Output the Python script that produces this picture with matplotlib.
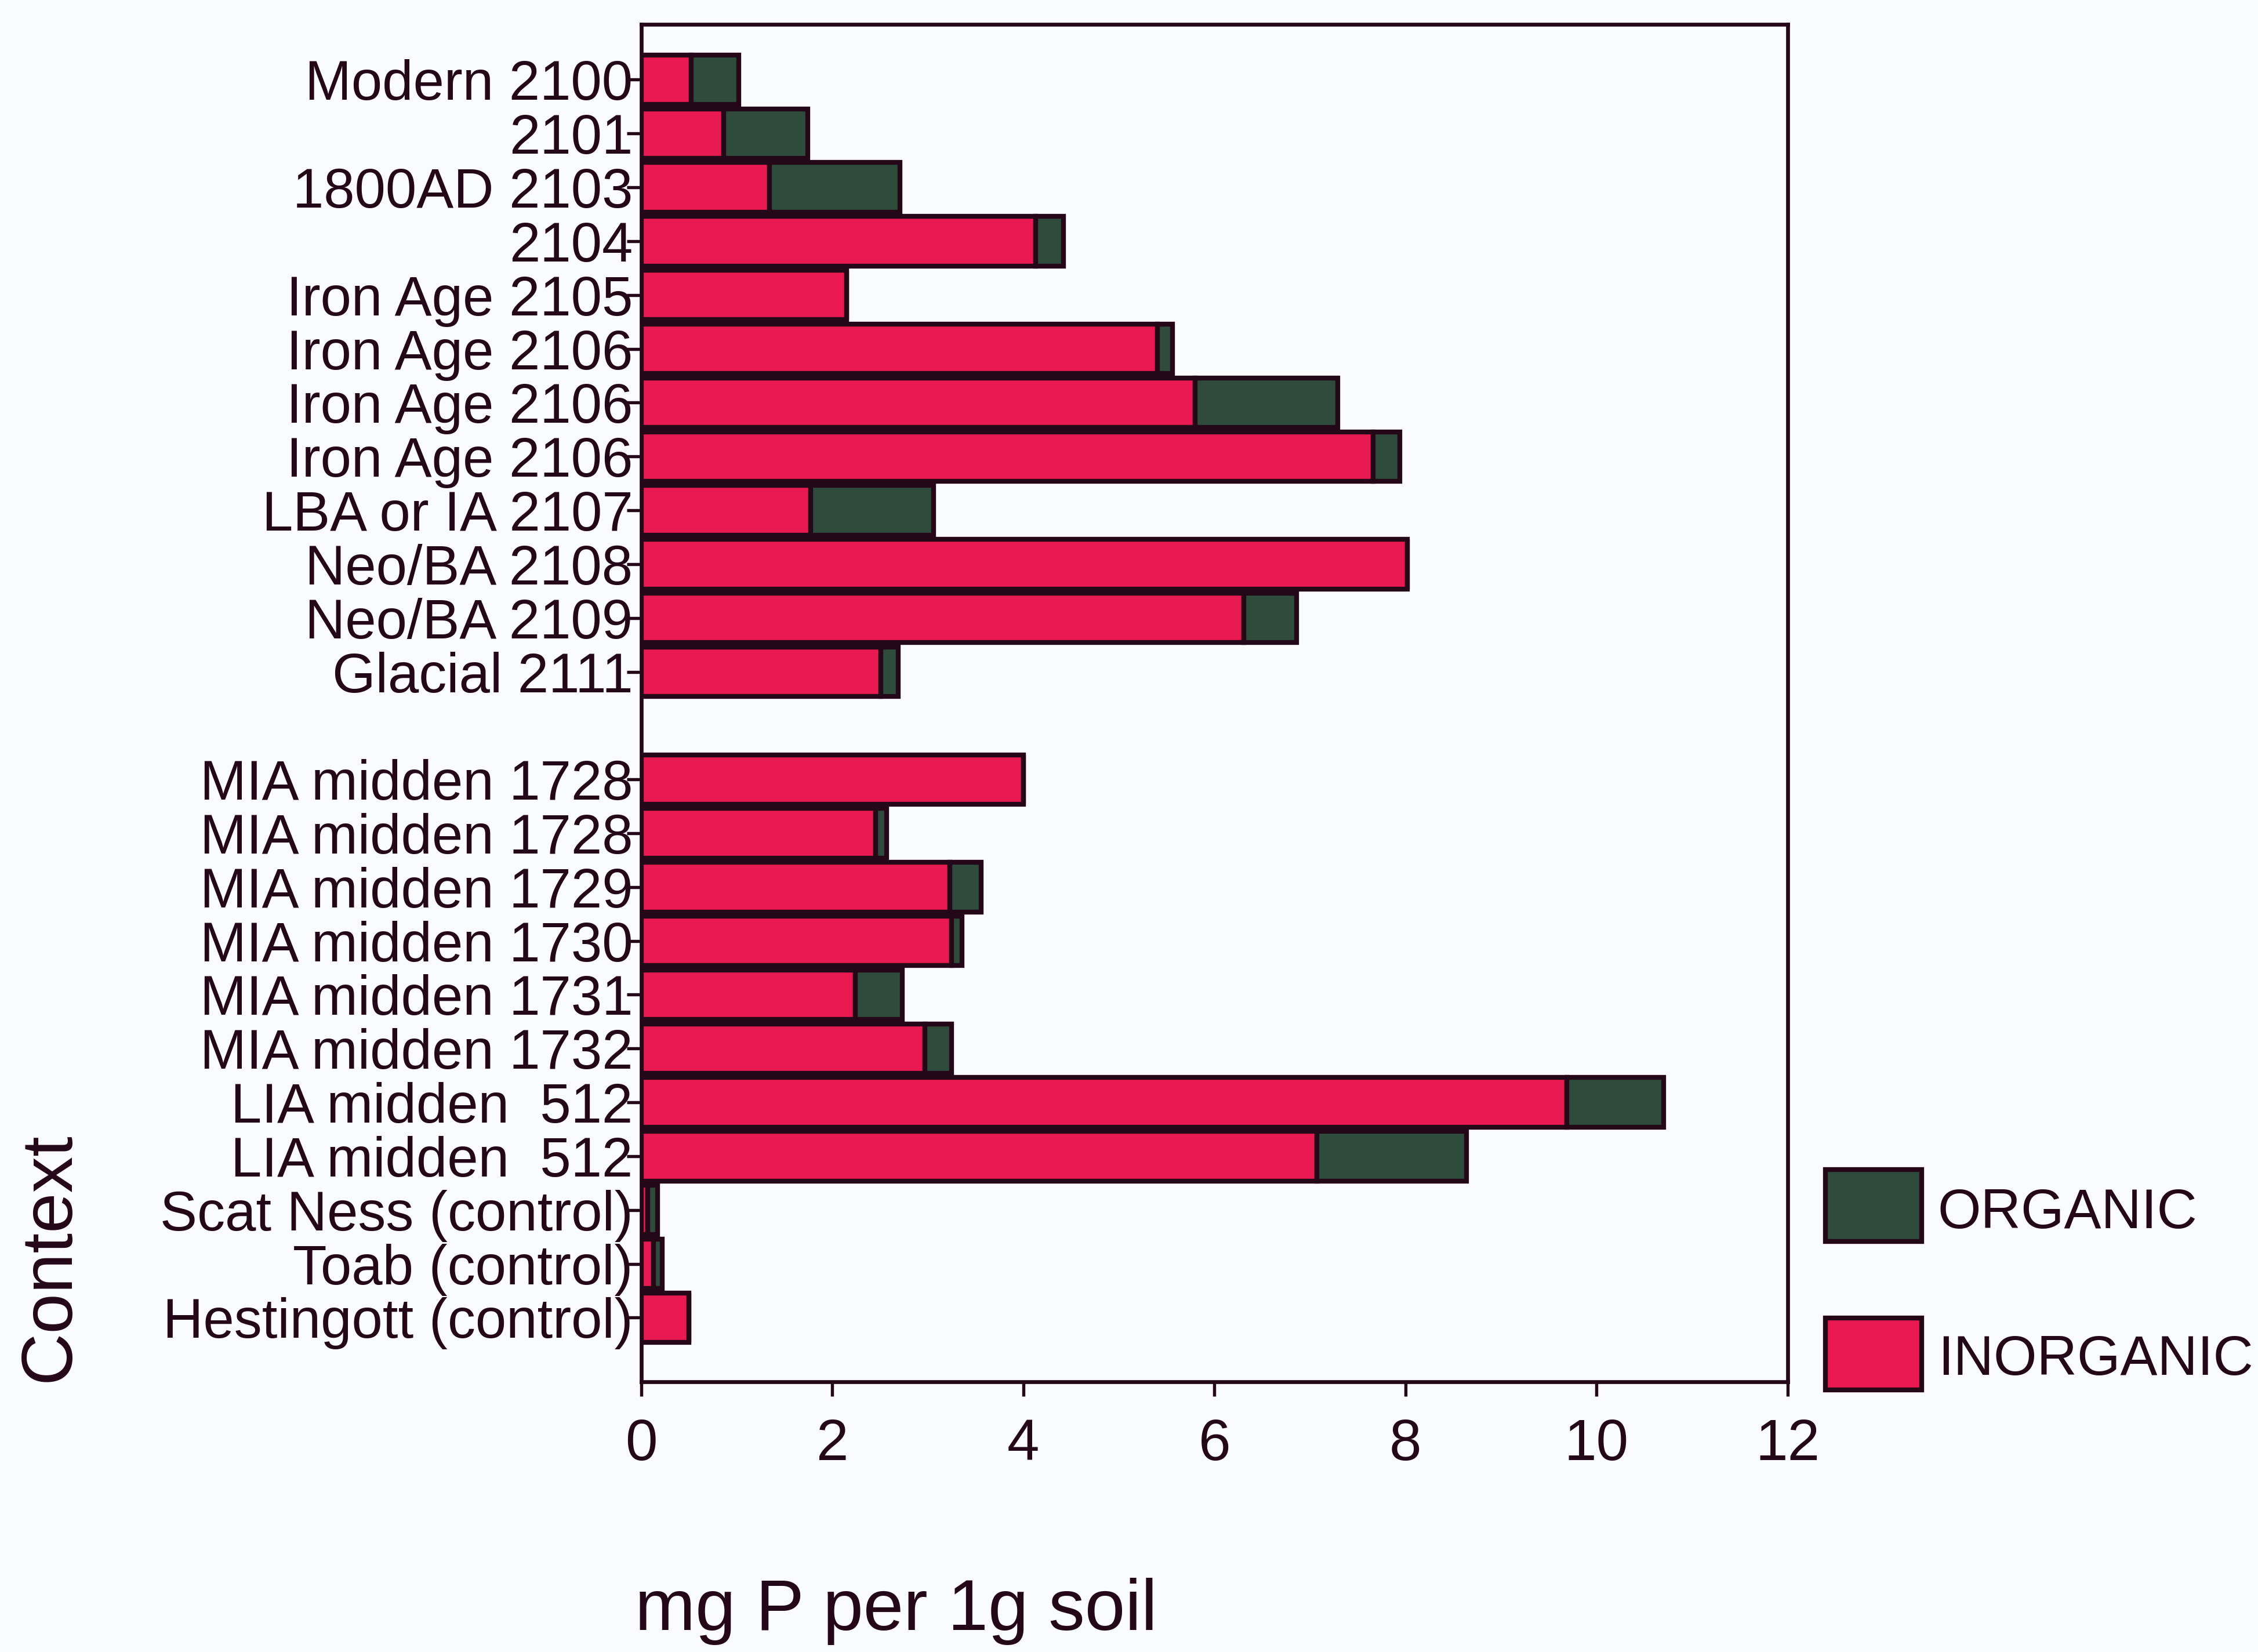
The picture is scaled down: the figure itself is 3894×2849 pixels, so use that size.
import matplotlib
matplotlib.use("Agg")
import matplotlib.pyplot as plt
from matplotlib.patches import Rectangle

plt.rcParams['font.family'] = ['Liberation Sans', 'DejaVu Sans']

# Soil phosphorus fractions (mg P per 1 g soil), listed top to bottom
contexts_upper = [
    "Modern 2100", "2101", "1800AD 2103", "2104", "Iron Age 2105",
    "Iron Age 2106", "Iron Age 2106", "Iron Age 2106", "LBA or IA 2107",
    "Neo/BA 2108", "Neo/BA 2109", "Glacial 2111",
]
inorganic_upper = [0.52, 0.86, 1.34, 4.13, 2.15, 5.40, 5.80, 7.66, 1.77, 8.02, 6.31, 2.51]
organic_upper = [0.50, 0.88, 1.37, 0.29, 0.00, 0.16, 1.49, 0.28, 1.29, 0.00, 0.55, 0.18]

contexts_lower = [
    "MIA midden 1728", "MIA midden 1728", "MIA midden 1729", "MIA midden 1730",
    "MIA midden 1731", "MIA midden 1732", "LIA midden  512", "LIA midden  512",
    "Scat Ness (control)", "Toab (control)", "Hestingott (control)",
]
inorganic_lower = [4.00, 2.45, 3.23, 3.25, 2.24, 2.97, 9.69, 7.07, 0.07, 0.13, 0.50]
organic_lower = [0.00, 0.12, 0.33, 0.11, 0.49, 0.28, 1.01, 1.57, 0.10, 0.09, 0.00]

x_ticks = [0, 2, 4, 6, 8, 10, 12]

RED = "#E91A52"
GREEN = "#2E4B3B"
INK = "#250818"
PAPER = "#FAFBFE"

labels = contexts_upper + contexts_lower
inorganic = inorganic_upper + inorganic_lower
organic = organic_upper + organic_lower
# one empty row separates the two groups of contexts
rows = list(range(len(contexts_upper))) + [len(contexts_upper) + 1 + i for i in range(len(contexts_lower))]

fig = plt.figure(figsize=(3894 / 300, 2849 / 300), dpi=300, facecolor=PAPER)
ax = fig.add_axes([0.284, 0.1636, 0.5077, 0.8217], facecolor=PAPER)

bar_h = 0.92
ax.barh(rows, inorganic, height=bar_h, color=RED, edgecolor=INK, linewidth=2.0, zorder=3)
ax.barh(rows, organic, left=inorganic, height=bar_h, color=GREEN, edgecolor=INK,
        linewidth=2.0, zorder=3)

ax.set_xlim(0, 12)
ax.set_ylim(rows[-1] + 1.19, -1.03)
ax.set_xticks(x_ticks)
ax.set_xticklabels([str(t) for t in x_ticks])
ax.set_yticks(rows)
ax.set_yticklabels(labels)

for side in ax.spines.values():
    side.set_color(INK)
    side.set_linewidth(1.6)

ax.tick_params(axis='y', direction='out', length=6, width=1.3, color=INK,
               labelsize=23, labelcolor=INK, pad=-2.5)
ax.tick_params(axis='x', direction='out', length=6, width=1.3, color=INK,
               labelsize=24, labelcolor=INK, pad=9)

fig.text(0.0223, 0.239, "Context", rotation=90, ha='center', va='center',
         fontsize=30, color=INK)
fig.text(0.2812, 0.0133, "mg P per 1g soil", ha='left', va='baseline',
         fontsize=30, color=INK)

# legend boxes with labels
legend_items = [("ORGANIC", GREEN, 0.2485, 0.2566), ("INORGANIC", RED, 0.1587, 0.1678)]
for name, colour, y0, base in legend_items:
    fig.patches.append(Rectangle((0.8084, y0), 0.0426, 0.0435, transform=fig.transFigure,
                                 facecolor=colour, edgecolor=INK, linewidth=2.0))
    fig.text(0.8582, base, name, ha='left', va='baseline', fontsize=23, color=INK)

fig.savefig("out.png", dpi=300, facecolor=PAPER)
